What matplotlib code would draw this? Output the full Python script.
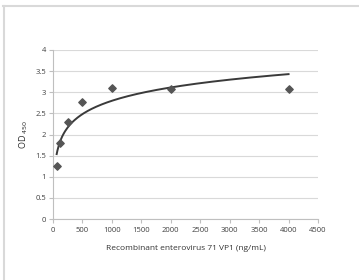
import numpy as np
import matplotlib
matplotlib.use('Agg')
import matplotlib.pyplot as plt
from matplotlib.lines import Line2D

# concentration (ng/mL) and OD450 readings
conc = [62.5, 125, 250, 500, 1000, 2000, 4000]
od = [1.25, 1.81, 2.29, 2.78, 3.09, 3.08, 3.08]

def main():
    plt.rcParams['font.family'] = ['Open Sans', 'DejaVu Sans']
    fig = plt.figure(figsize=(3.59, 2.80), dpi=100)
    ax = fig.add_axes([53 / 359, 1 - 219 / 280, 265 / 359, 169 / 280])

    # excel-style log trendline
    b, a = np.polyfit(np.log(conc), od, 1)
    xs = np.linspace(conc[0], conc[-1], 300)
    ax.plot(xs, a + b * np.log(xs), color='#3a3a3a', lw=1.4, zorder=3)
    ax.scatter(conc, od, marker='D', s=14, color='#555555', zorder=4)

    ax.set_xlim(0, 4500)
    ax.set_ylim(0, 4)
    ax.set_xticks(np.arange(0, 4501, 500))
    ax.set_yticks(np.arange(0, 4.01, 0.5))
    ax.set_yticklabels(['0', '0.5', '1', '1.5', '2', '2.5', '3', '3.5', '4'])
    ax.grid(axis='y', color='#d9d9d9', lw=0.8)
    ax.set_axisbelow(True)
    for s in ['top', 'right']:
        ax.spines[s].set_visible(False)
    for s in ['left', 'bottom']:
        ax.spines[s].set_color('#bfbfbf')
        ax.spines[s].set_linewidth(0.8)
    ax.tick_params(axis='x', length=3, color='#bfbfbf', labelsize=5.5, labelcolor='#404040', pad=3)
    ax.tick_params(axis='y', length=3, color='#bfbfbf', labelsize=5.5, labelcolor='#404040', pad=2)

    ax.set_xlabel('Recombinant enterovirus 71 VP1 (ng/mL)', fontsize=6, color='#333333', labelpad=8)
    ax.set_ylabel('OD $_{450}$', fontsize=6.5, color='#333333', labelpad=4)

    # partial frame of the chart box (top and left)
    fig.add_artist(Line2D([3 / 359, 1], [1 - 6 / 280, 1 - 6 / 280], color='#d9d9d9', lw=1.5))
    fig.add_artist(Line2D([4 / 359, 4 / 359], [0, 1 - 6 / 280], color='#d9d9d9', lw=1.5))

    fig.savefig('out.png', dpi=100)

if __name__ == '__main__':
    main()
